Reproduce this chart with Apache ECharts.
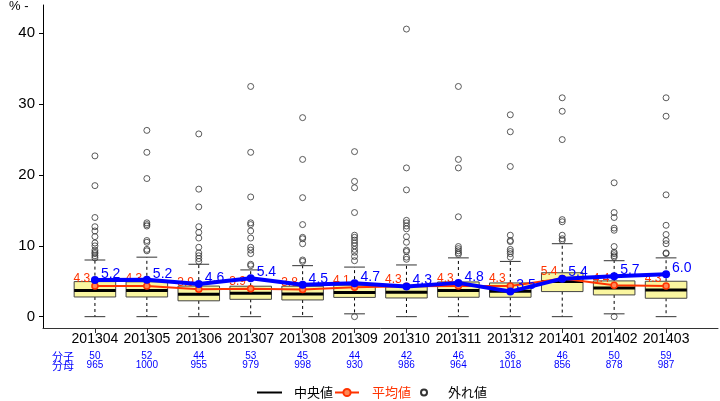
<!DOCTYPE html>
<html><head><meta charset="utf-8">
<script src="https://cdn.jsdelivr.net/npm/echarts@6/dist/echarts.min.js"></script>
<style>html,body{margin:0;padding:0;background:#fff}#c{width:720px;height:401px}</style>
</head><body><div id="c"></div>
<script>
const categories = ['201304','201305','201306','201307','201308','201309','201310','201311','201312','201401','201402','201403'];
const numerators = [50,52,44,53,45,44,42,46,36,46,50,59];
const denominators = [965,1000,955,979,998,930,986,964,1018,856,878,987];
const rateValues = [5.18,5.20,4.61,5.41,4.51,4.73,4.26,4.77,3.54,5.37,5.69,5.98];
const meanValues = [4.34,4.33,3.86,3.94,3.84,4.14,4.30,4.32,4.33,5.40,4.43,4.34];
const whiskerLow = [0,0,0,0,0,0.4,0,0,0,0,0.4,0];
const q1Values = [2.78,2.78,2.24,2.45,2.36,2.72,2.64,2.74,2.74,3.54,3.07,2.60];
const medianValues = [3.68,3.68,3.15,3.30,3.20,3.40,3.44,3.68,3.58,4.95,4.06,3.77];
const q3Values = [4.95,4.92,4.32,4.30,4.30,4.45,4.22,4.90,4.76,6.20,5.05,5.00];
const whiskerHigh = [8.0,8.4,7.4,6.6,7.2,7.0,7.3,8.3,7.8,10.3,7.9,8.3];
const outlierValues = [
  [22.7,18.5,14.0,12.7,12.1,11.3,10.4,10.0,9.4,9.1,8.9,8.6,8.3],
  [26.3,23.2,19.5,13.25,13.0,12.8,10.75,10.5,9.5,9.3],
  [25.8,18.0,15.5,12.7,11.9,11.1,9.8,9.0,8.6,8.2,7.8],
  [32.5,23.2,16.9,13.25,13.0,12.1,11.1,9.8,9.4,8.9,7.4,7.2],
  [28.1,22.2,16.8,13.0,11.2,11.0,10.3,8.0,7.8],
  [23.3,19.1,18.2,14.7,11.5,11.2,10.8,10.4,10.0,9.5,9.1,8.5,7.9,0],
  [40.6,21.0,17.9,13.6,13.25,12.8,12.4,11.3,10.5,9.4,9.2,8.4,8.1],
  [32.5,22.2,21.0,14.1,9.9,9.6,9.3,9.0,8.8],
  [28.5,26.1,21.2,11.5,10.75,10.6,9.5,9.2,8.9,8.4],
  [30.9,29.0,25.0,13.7,13.4,11.5,11.0,10.75],
  [18.9,14.7,14.0,12.5,12.2,9.9,9.1,8.9,8.6,8.4,0],
  [30.9,28.3,17.2,12.9,11.6,10.75,10.3,9.0,8.9]
];
const yTicks = [0,10,20,30,40];

const idx = categories.map((c,i)=>i);
const boxData = idx.map(i=>[i, whiskerLow[i], q1Values[i], medianValues[i], q3Values[i], whiskerHigh[i]]);
const outlierData = [];
outlierValues.forEach((arr,i)=>arr.forEach(v=>outlierData.push([i,v])));
const sans = '"Liberation Sans",Arial,sans-serif';
const cjk = '"Noto Sans CJK JP",sans-serif';

const chart = echarts.init(document.getElementById('c'));
chart.setOption({
  animation:false,
  backgroundColor:'#fff',
  grid:{left:43,right:2,top:5,bottom:73},
  xAxis:[{
    type:'value',min:-1,max:12,position:'bottom',
    axisLine:{show:true,onZero:false,lineStyle:{color:'#333',width:1}},
    axisTick:{show:true,customValues:idx,length:5,lineStyle:{color:'#333'}},
    axisLabel:{customValues:idx,hideOverlap:false,showMinLabel:true,showMaxLabel:true,formatter:v=>categories[v]||'',fontSize:14,fontFamily:sans,color:'#000',margin:4},
    splitLine:{show:false}
  },{
    type:'value',min:-1,max:12,position:'bottom',offset:0,
    axisLine:{show:false,onZero:false},axisTick:{show:false},
    axisLabel:{customValues:idx,hideOverlap:false,showMinLabel:true,showMaxLabel:true,formatter:v=>(numerators[v]!==undefined?numerators[v]+'\n'+denominators[v]:''),fontSize:10,lineHeight:9,fontFamily:sans,color:'#0000FF',margin:24},
    splitLine:{show:false}
  }],
  yAxis:{
    type:'value',min:-1.6,max:44,
    axisLine:{show:true,onZero:false,lineStyle:{color:'#000',width:1}},
    axisTick:{show:true,customValues:yTicks,length:4,lineStyle:{color:'#000'}},
    axisLabel:{customValues:yTicks,hideOverlap:false,fontSize:15,fontFamily:sans,color:'#000',margin:8},
    splitLine:{show:false}
  },
  legend:[
    {data:['中央値'],left:252,top:381,icon:'rect',itemWidth:25,itemHeight:2,
     textStyle:{color:'#000',fontSize:13,fontFamily:cjk,padding:[0,0,0,7]}},
    {data:['平均値'],left:329,top:381,itemWidth:24,itemHeight:9,
     textStyle:{color:'#FF3300',fontSize:13,fontFamily:cjk,padding:[0,0,0,8]}},
    {data:[{name:'外れ値',itemStyle:{color:'rgba(0,0,0,0)',borderColor:'#000',borderWidth:2}}],left:415,top:381,icon:'circle',itemWidth:6,itemHeight:6,
     textStyle:{color:'#000',fontSize:13,fontFamily:cjk,padding:[0,0,0,16]}}
  ],
  graphic:[
    {type:'text',left:9,top:0,style:{text:'% -',fontSize:13,fontFamily:sans,fill:'#000'}},
    {type:'text',left:52,top:351,style:{text:'分子\n分母',fontSize:11,lineHeight:9,fontFamily:cjk,fill:'#0000FF'}}
  ],
  series:[
    {type:'custom',name:'box',z:1,data:boxData,encode:{x:0,y:[1,2,3,4,5]},
     renderItem(params,api){
       const i=api.value(0);
       const x=api.coord([i,0])[0];
       const bw=api.size([0.8,0])[0];
       const yLo=api.coord([i,api.value(1)])[1];
       const yQ1=api.coord([i,api.value(2)])[1];
       const yMed=api.coord([i,api.value(3)])[1];
       const yQ3=api.coord([i,api.value(4)])[1];
       const yHi=api.coord([i,api.value(5)])[1];
       const cw=bw/2;
       return {type:'group',children:[
         {type:'line',shape:{x1:x,y1:yQ3,x2:x,y2:yHi},style:{stroke:'#000',lineWidth:1,lineDash:[3,3]}},
         {type:'line',shape:{x1:x,y1:yQ1,x2:x,y2:yLo},style:{stroke:'#000',lineWidth:1,lineDash:[3,3]}},
         {type:'line',shape:{x1:x-cw/2,y1:yHi,x2:x+cw/2,y2:yHi},style:{stroke:'#333',lineWidth:1}},
         {type:'line',shape:{x1:x-cw/2,y1:yLo,x2:x+cw/2,y2:yLo},style:{stroke:'#333',lineWidth:1}},
         {type:'rect',shape:{x:x-bw/2,y:yQ3,width:bw,height:yQ1-yQ3},style:{fill:'#FAF6A0',stroke:'#444',lineWidth:1}},
         {type:'line',shape:{x1:x-bw/2,y1:yMed,x2:x+bw/2,y2:yMed},style:{stroke:'#000',lineWidth:3}}
       ]};
     }},
    {type:'line',name:'中央値',data:[],symbol:'none',lineStyle:{color:'#000',width:2},itemStyle:{color:'#000'}},
    {type:'scatter',name:'外れ値',z:2,data:outlierData,symbol:'circle',symbolSize:6,
     itemStyle:{color:'rgba(0,0,0,0)',borderColor:'#333',borderWidth:1}},
    {type:'line',name:'平均値',z:3,data:idx.map(i=>[i,meanValues[i]]),symbol:'circle',symbolSize:6,
     lineStyle:{color:'#FF3300',width:2},itemStyle:{color:'#FF8855',borderColor:'#FF3300',borderWidth:1.5},
     label:{show:true,position:'left',distance:1,offset:[0,-7],fontSize:12,fontFamily:sans,color:'#FF3300',formatter:p=>p.value[1].toFixed(1)}},
    {type:'line',name:'rate',z:4,data:idx.map(i=>[i,rateValues[i]]),symbol:'circle',symbolSize:8,
     lineStyle:{color:'#0000FF',width:4},itemStyle:{color:'#0000FF'},
     label:{show:true,position:'right',distance:2,offset:[0,-6],fontSize:14,fontFamily:sans,color:'#0000FF',formatter:p=>p.value[1].toFixed(1)}}
  ]
});
</script></body></html>
